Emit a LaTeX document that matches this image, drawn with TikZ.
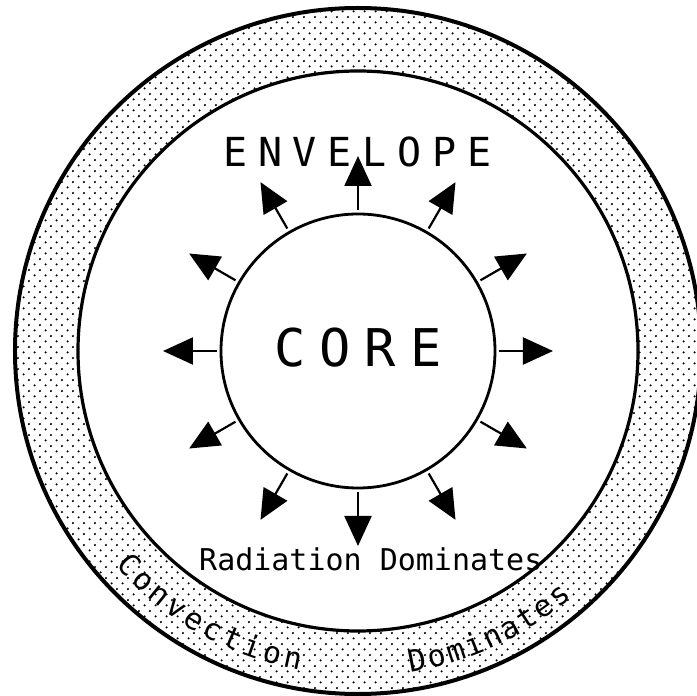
\documentclass[tikz,border=0pt]{standalone}
\usepackage{fontspec}
\usepackage{tikz}
\usetikzlibrary{arrows.meta, decorations.text, patterns.meta}
\newfontfamily\starmono{DejaVu Sans Mono}
\newfontfamily\starwide[LetterSpace=27]{DejaVu Sans Mono}
\newfontfamily\starwider[LetterSpace=27]{DejaVu Sans Mono}
\newcommand\arcfont{\fontsize{30pt}{30pt}\starmono}
\tikzdeclarepattern{
  name=ringdots,
  type=uncolored,
  bounding box={(0pt,0pt) and (10.8pt,10.8pt)},
  tile size={(10.8pt,10.8pt)},
  code={
    \fill (2.7pt,2.7pt) circle[radius=1.2pt];
    \fill (8.1pt,8.1pt) circle[radius=1.2pt];
  }
}
\tikzset{
  shell/.style={line width=4pt},
  ringedge/.style={line width=3.2pt},
  corebody/.style={circle, draw, line width=2.8pt, minimum size=274pt, inner sep=0pt},
  ray/.style={-{Triangle[length=30pt, width=27pt]}, line width=2.2pt, shorten <=3pt},
  bigcaps/.style={font=\fontsize{40pt}{40pt}\starwide, inner sep=0pt},
  corecaps/.style={font=\fontsize{52pt}{52pt}\starwider, inner sep=0pt},
  plain/.style={font=\fontsize{30pt}{30pt}\starmono, inner sep=0pt},
  arclabel/.style={decorate, decoration={text along path, text={|\arcfont|#1}, text align=fit to path}}
}
\begin{document}
\begin{tikzpicture}[x=1pt, y=1pt]
  \useasboundingbox (-358,-345) rectangle (339,351);
  % Convective shell
  \fill[pattern=ringdots, even odd rule] (0,0) circle (343) (0,0) circle (280);
  \draw[shell] (0,0) circle (343);
  \draw[ringedge] (0,0) circle (280);

  % Radiative core
  \node[corebody] (core) at (0,0) {};
  \node[corecaps, anchor=base west] (corename) at (-84,-16) {CORE};
  \foreach \a in {0,30,...,330} {
    \coordinate (tip\a) at (\a:195);
    \draw[ray] (core.\a) -- (tip\a);
  }

  \node[bigcaps, anchor=base west] (envelope) at (-135,184) {ENVELOPE};
  \node[plain, anchor=base west] (radnote) at (-159,-219) {Radiation Dominates};

  % Curved labels in the shell
  \path[arclabel=Convection] (221.5:324) arc[start angle=221.5, end angle=259.7, radius=324];
  \path[arclabel=Dominates] (279.3:326) arc[start angle=279.3, end angle=311, radius=326];
\end{tikzpicture}
\end{document}
